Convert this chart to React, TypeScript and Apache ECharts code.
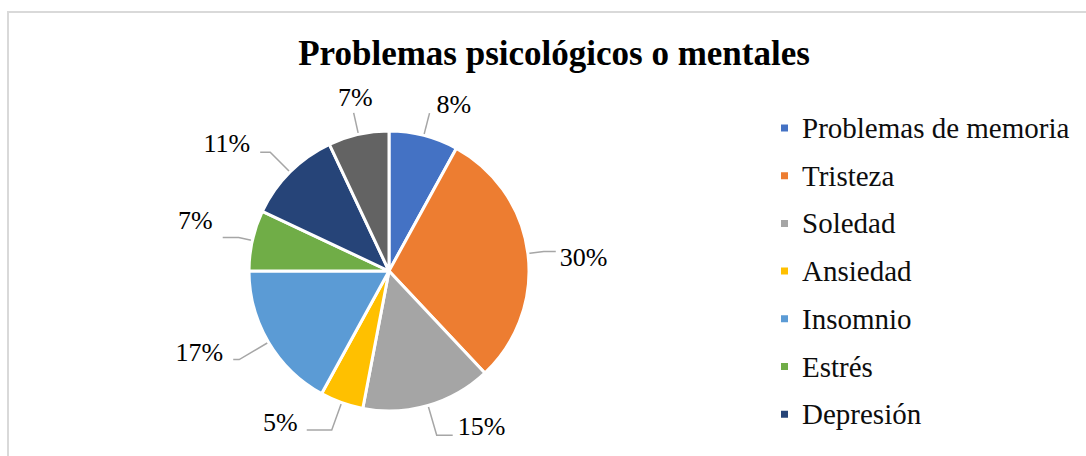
import React, { useEffect, useRef } from "react";
import * as echarts from "echarts";

const titleText = "Problemas psicológicos o mentales";
const categories = [
  "Problemas de memoria",
  "Tristeza",
  "Soledad",
  "Ansiedad",
  "Insomnio",
  "Estrés",
  "Depresión",
  "Otros",
];
const values = [8, 30, 15, 5, 17, 7, 11, 7];
const colors = [
  "#4472C4",
  "#ED7D31",
  "#A5A5A5",
  "#FFC000",
  "#5B9BD5",
  "#70AD47",
  "#264478",
  "#636363",
];
const legendItems = categories.slice(0, 7);

// leader-line styling per slice (Excel-like best-fit placement); shift > 0 lifts the text above the line end
const labelStyles = [
  { length: 23, length2: 0, distance: 7, shift: 9 },
  { length: 16, length2: 12, distance: 4, shift: -6 },
  { length: 31, length2: 16, distance: 5, shift: 9 },
  { length: 29, length2: 25, distance: 9, shift: 8 },
  { length: 34, length2: 6, distance: 10, shift: 7 },
  { length: 14, length2: 16, distance: 10, shift: 17 },
  { length: 28, length2: 10, distance: 10, shift: 9 },
  { length: 22, length2: 0, distance: -19, shift: 15 },
];

const FONT = "'Liberation Serif', 'Times New Roman', serif";

export default function App() {
  const ref = useRef<HTMLDivElement>(null);
  useEffect(() => {
    document.body.style.margin = "0";
    const chart = echarts.init(ref.current!, null, { renderer: "svg" });
    chart.setOption({
      animation: false,
      backgroundColor: "#ffffff",
      color: colors,
      title: {
        text: titleText,
        left: 549,
        textAlign: "center",
        top: 31,
        textStyle: {
          fontFamily: FONT,
          fontWeight: "bold",
          fontSize: 35,
          color: "#000",
        },
      },
      legend: {
        orient: "vertical",
        left: 779,
        top: 113.5,
        padding: 0,
        itemWidth: 9,
        itemHeight: 9,
        itemGap: 18.7,
        icon: "rect",
        data: legendItems,
        textStyle: {
          fontFamily: FONT,
          fontSize: 29,
          lineHeight: 29,
          color: "#0d0d0d",
          padding: [0, 0, 0, 8],
        },
      },
      graphic: [
        {
          type: "rect",
          shape: { x: 8, y: 12, width: 1200, height: 600 },
          style: { fill: "none", stroke: "#d9d9d9", lineWidth: 2 },
          silent: true,
        },
      ],
      series: [
        {
          type: "pie",
          center: [389, 271],
          radius: 140,
          startAngle: 90,
          clockwise: true,
          avoidLabelOverlap: false,
          itemStyle: { borderColor: "#fff", borderWidth: 3 },
          label: {
            show: true,
            formatter: (p: any) => {
              const t = `${Math.round(p.percent)}%`;
              const s = labelStyles[p.dataIndex].shift;
              return s >= 0 ? `${t}\n` : `\n${t}`;
            },
            fontFamily: FONT,
            fontSize: 26,
            color: "#000",
          },
          labelLine: {
            show: true,
            lineStyle: { color: "#a6a6a6", width: 1.5 },
          },
          data: categories.map((name, i) => ({
            name,
            value: values[i],
            label: {
              distanceToLabelLine: labelStyles[i].distance,
              lineHeight: Math.max(2, Math.abs(labelStyles[i].shift) * 2),
            },
            labelLine: {
              length: labelStyles[i].length,
              length2: labelStyles[i].length2,
            },
          })),
        },
      ],
    });
    return () => chart.dispose();
  }, []);
  return <div ref={ref} style={{ width: 1086, height: 456 }} />;
}
